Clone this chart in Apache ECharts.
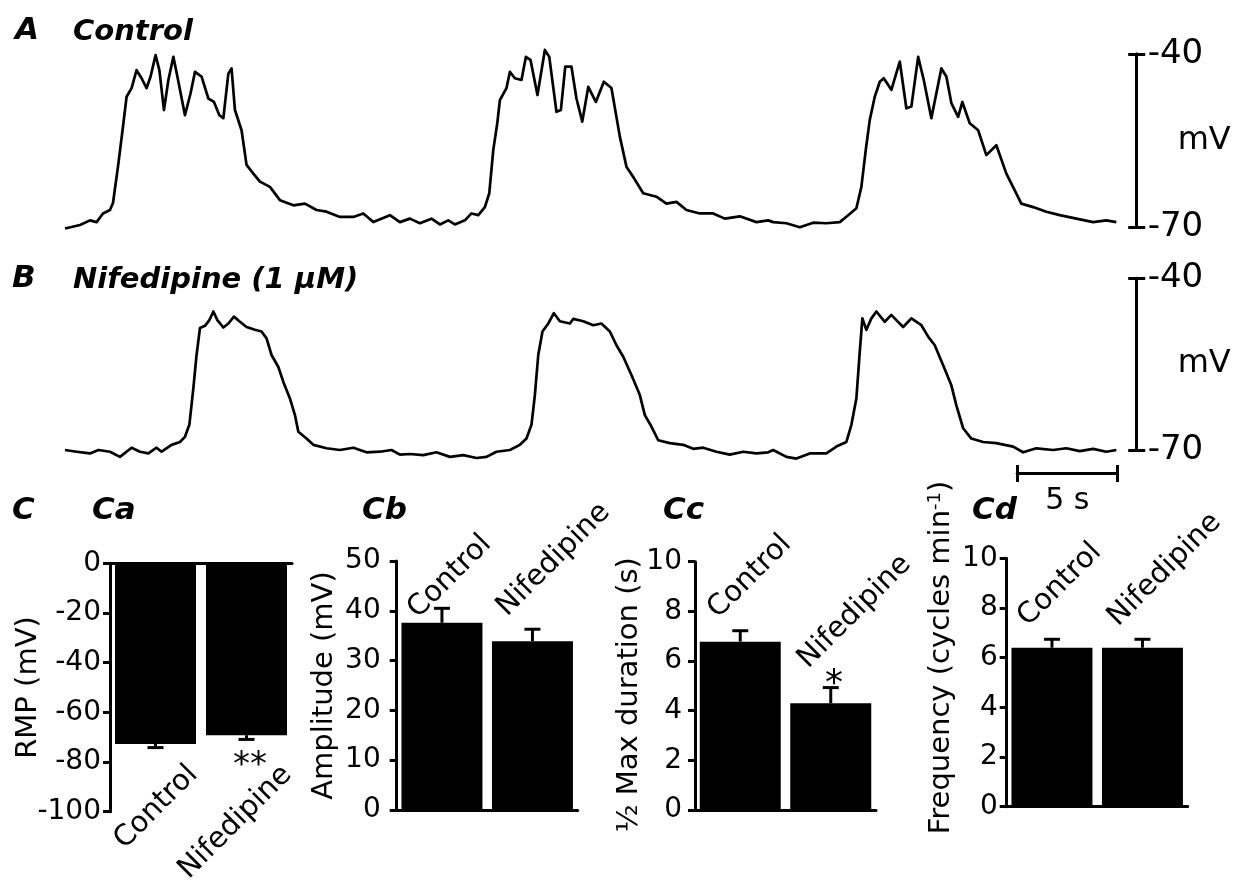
<!DOCTYPE html>
<html><head><meta charset="utf-8">
<script src="https://cdn.jsdelivr.net/npm/echarts@6/dist/echarts.min.js"></script>
<style>html,body{margin:0;padding:0;background:#fff}#c{width:1250px;height:888px}</style>
</head><body><div id="c"></div>
<script>
// ---------- data ----------
const controlTime = [0,0.75,1.25,1.58,1.9,2.25,2.4,2.65,2.9,3.08,3.33,3.58,3.83,4.08,4.28,4.53,4.72,4.95,5.17,5.42,5.62,6.0,6.28,6.5,6.83,7.17,7.45,7.72,7.92,8.17,8.33,8.5,8.83,9.08,9.42,9.75,10.25,10.75,11.42,12.0,12.58,13.08,13.75,14.42,14.92,15.42,16.25,16.75,17.25,17.75,18.33,18.75,19.17,19.5,20.0,20.33,20.67,21.0,21.22,21.42,21.62,21.75,22.08,22.25,22.5,22.83,23.05,23.28,23.63,24.0,24.22,24.58,24.8,25.02,25.33,25.58,25.87,26.17,26.55,26.95,27.33,27.75,28.08,28.42,28.92,29.58,30.08,30.58,31.08,31.75,32.42,33.0,33.75,34.58,35.17,35.42,36.08,36.75,37.42,38.08,38.75,39.17,39.58,39.83,40.05,40.25,40.5,40.75,40.95,41.33,41.75,42.08,42.33,42.67,42.95,43.33,43.83,44.08,44.33,44.67,44.88,45.25,45.67,46.08,46.58,47.08,47.5,47.83,48.42,49.08,49.75,50.58,51.42,52.08,52.58];
const controlVm = [-70.2,-69.6,-68.8,-69.1,-67.6,-67.0,-65.8,-59.5,-52.6,-47.4,-45.9,-42.8,-44.2,-45.9,-43.9,-40.2,-42.8,-49.7,-44.5,-40.5,-43.9,-50.6,-46.8,-43.1,-43.9,-47.7,-48.3,-50.6,-51.1,-43.4,-42.5,-49.7,-53.2,-59.2,-60.7,-62.1,-63.0,-65.3,-66.2,-65.9,-67.0,-67.3,-68.2,-68.2,-67.6,-69.1,-67.9,-69.1,-68.5,-69.3,-68.5,-69.5,-68.8,-69.5,-68.8,-67.6,-67.9,-66.5,-64.1,-56.6,-52.0,-48.0,-45.9,-43.1,-44.2,-44.5,-40.5,-41.0,-47.1,-39.3,-40.5,-50.0,-49.7,-42.2,-42.2,-47.7,-51.7,-45.7,-48.3,-44.8,-45.9,-54.3,-59.5,-61.3,-64.1,-64.7,-65.9,-65.6,-67.0,-67.6,-67.6,-68.5,-68.1,-69.1,-68.8,-69.1,-69.3,-70.0,-69.2,-69.3,-69.1,-67.9,-66.7,-63.0,-56.6,-51.4,-47.4,-44.8,-44.2,-46.2,-41.3,-49.4,-49.1,-40.5,-44.5,-51.1,-42.5,-43.9,-48.5,-50.9,-48.3,-52.0,-53.2,-57.5,-55.8,-60.7,-63.6,-65.9,-66.5,-67.3,-67.9,-68.5,-69.1,-68.8,-69.1];
const nifTime = [0,0.58,1.25,1.67,2.25,2.75,3.33,3.75,4.17,4.58,4.83,5.33,5.75,6.0,6.22,6.42,6.58,6.75,7.0,7.22,7.42,7.62,7.92,8.17,8.45,8.75,9.08,9.5,9.83,10.08,10.33,10.67,10.92,11.25,11.5,11.67,12.08,12.42,13.08,13.75,14.42,15.08,15.75,16.33,16.75,17.25,17.92,18.58,19.25,19.92,20.58,21.08,21.58,22.25,22.75,23.08,23.33,23.5,23.67,23.88,24.17,24.45,24.75,25.25,25.42,25.92,26.42,26.83,27.25,27.58,27.92,28.33,28.75,29.0,29.33,29.67,30.25,30.92,31.42,31.92,32.58,33.25,33.92,34.58,35.17,35.42,36.08,36.58,37.25,38.08,38.58,39.08,39.33,39.58,39.75,39.88,40.08,40.33,40.58,41.0,41.33,41.58,41.92,42.33,42.83,43.17,43.5,43.92,44.33,44.58,44.92,45.33,45.92,46.58,47.42,47.92,48.58,49.42,50.08,50.75,51.42,52.08,52.58];
const nifVm = [-70.0,-70.3,-70.6,-70.0,-70.3,-71.2,-69.6,-70.3,-70.6,-69.6,-70.3,-69.1,-68.6,-67.7,-65.6,-59.2,-53.4,-48.7,-48.3,-47.3,-45.8,-47.3,-48.6,-47.9,-46.7,-47.6,-48.5,-49.0,-49.3,-50.5,-53.4,-55.5,-58.1,-61.0,-63.9,-66.8,-68.0,-69.1,-69.7,-70.0,-69.6,-70.4,-70.3,-70.0,-70.8,-70.7,-70.9,-70.4,-71.2,-70.9,-71.4,-71.2,-70.3,-70.0,-69.1,-68.0,-65.6,-60.4,-53.4,-49.3,-47.9,-46.1,-47.5,-47.9,-47.1,-47.5,-48.2,-47.9,-49.3,-51.7,-53.7,-56.9,-60.4,-63.9,-65.9,-68.3,-68.8,-69.1,-69.8,-69.6,-70.3,-70.8,-70.3,-70.6,-70.4,-70.0,-71.2,-71.5,-70.6,-70.6,-69.4,-68.6,-65.6,-61.0,-52.8,-47.0,-49.0,-47.0,-45.8,-47.6,-46.4,-47.3,-48.5,-47.0,-48.2,-50.2,-51.7,-55.2,-58.7,-62.2,-66.2,-68.0,-68.6,-68.8,-69.4,-70.4,-69.7,-70.0,-69.7,-70.2,-69.8,-70.3,-70.0];
const vmScale = [-70, -40];      // scale bar ends (mV)
const timeScale = [0, 5];        // scale bar (s)

const categories = ['Control', 'Nifedipine'];
const rmpMean = [-72.7, -69.2];  const rmpSem = [1.5, 1.7];
const ampMean = [37.6, 33.9];    const ampSem = [2.9, 2.4];
const durMean = [6.78, 4.30];    const durSem = [0.44, 0.63];
const freqMean = [6.40, 6.40];   const freqSem = [0.34, 0.34];
const signif = { rmp: ['', '**'], dur: ['', '*'] };

// ---------- chart ----------
const FONT = 'DejaVu Sans';
const K = '#000';
const chart = echarts.init(document.getElementById('c'), null, { renderer: 'canvas' });

function zip(a, b) { return a.map((v, i) => [v, b[i]]); }

const gA = { left: 65, right: 113.3, top: 54, height: 173.3, outerBoundsMode: 'none' };
const gB = { left: 65, right: 113.3, top: 278.3, height: 171.7, outerBoundsMode: 'none' };
const gS = { left: 1017.3, width: 100, top: 472.5, height: 1, outerBoundsMode: 'none' };
const barGrid = [
  { left: 110, width: 182, top: 563.3, height: 248.4, outerBoundsMode: 'none' },
  { left: 396.7, width: 181, top: 561, height: 249, outerBoundsMode: 'none' },
  { left: 695, width: 181, top: 561.7, height: 248.3, outerBoundsMode: 'none' },
  { left: 1006.7, width: 181, top: 558.3, height: 248.4, outerBoundsMode: 'none' }
];
// grids 0-2: traces + time bar (outer ticks), 3-5: same rects (inner ticks), 6-9: bar panels
const grids = [gA, gB, gS, Object.assign({}, gA), Object.assign({}, gB), Object.assign({}, gS)].concat(barGrid);

function scaleYAxis(grid, inside) {
  return {
    type: 'value', gridIndex: grid, position: 'right', min: vmScale[0], max: vmScale[1], interval: vmScale[1] - vmScale[0],
    axisLine: { show: true, onZero: false, lineStyle: { color: K, width: 3 } },
    axisTick: { show: true, inside: inside, length: 8.5, lineStyle: { color: K, width: 3 } },
    axisLabel: { show: !inside, margin: 11, color: K, fontFamily: FONT, fontSize: 34 },
    splitLine: { show: false },
    name: inside ? '' : 'mV', nameLocation: 'middle', nameRotate: 0, nameGap: 41, nameMoveOverlap: false,
    nameTextStyle: { color: K, fontFamily: FONT, fontSize: 32 }
  };
}
function scaleXAxis(grid, inside) {
  return {
    type: 'value', gridIndex: grid, min: timeScale[0], max: timeScale[1], interval: timeScale[1] - timeScale[0], position: 'bottom',
    axisLine: { show: true, onZero: false, lineStyle: { color: K, width: 3 } },
    axisTick: { show: true, inside: inside, length: 8.5, lineStyle: { color: K, width: 3 } },
    axisLabel: { show: false }, splitLine: { show: false },
    name: inside ? '' : '5 s', nameLocation: 'middle', nameGap: 13, nameMoveOverlap: false,
    nameTextStyle: { color: K, fontFamily: FONT, fontSize: 30, verticalAlign: 'top' }
  };
}
const hiddenX = (g) => ({ type: 'value', gridIndex: g, min: 0, max: 53.6, show: false });
const hiddenY = (g) => ({ type: 'value', gridIndex: g, min: 0, max: 1, show: false });

const xAxes = [hiddenX(0), hiddenX(1), scaleXAxis(2, false), hiddenX(3), hiddenX(4), scaleXAxis(5, true)];
const yAxes = [scaleYAxis(0, false), scaleYAxis(1, false), hiddenY(2), scaleYAxis(3, true), scaleYAxis(4, true), hiddenY(5)];

const series = [
  { type: 'line', xAxisIndex: 0, yAxisIndex: 0, data: zip(controlTime, controlVm), showSymbol: false, symbol: 'none', clip: false,
    lineStyle: { color: K, width: 2.7, join: 'round' }, animation: false },
  { type: 'line', xAxisIndex: 1, yAxisIndex: 1, data: zip(nifTime, nifVm), showSymbol: false, symbol: 'none', clip: false,
    lineStyle: { color: K, width: 2.7, join: 'round' }, animation: false }
];

const barSpecs = [
  { mean: rmpMean, sem: rmpSem, min: -100, max: 0, interval: 20, name: 'RMP (mV)', gap: 67, margin: 9, pad: [0, 0, 0, 0] },
  { mean: ampMean, sem: ampSem, min: 0, max: 50, interval: 10, name: 'Amplitude (mV)', gap: 58, margin: 16, pad: [0, 0, 0, 0] },
  { mean: durMean, sem: durSem, min: 0, max: 10, interval: 2, name: '½ Max duration (s)', gap: 51, margin: 13, pad: [0, 18, 0, 0] },
  { mean: freqMean, sem: freqSem, min: 0, max: 10, interval: 2, name: 'Frequency (cycles min{sup|-1})', gap: 51, margin: 9, pad: [0, 0, 0, 50] }
];

function errRender(params, api) {
  const c = api.value(0), m = api.value(1), e = api.value(2);
  const end = m < 0 ? m - e : m + e;
  const p0 = api.coord([c, m]), p1 = api.coord([c, end]);
  const hw = 8;
  return { type: 'group', children: [
    { type: 'line', shape: { x1: p0[0], y1: p0[1], x2: p1[0], y2: p1[1] }, style: { stroke: K, lineWidth: 3 } },
    { type: 'line', shape: { x1: p1[0] - hw, y1: p1[1], x2: p1[0] + hw, y2: p1[1] }, style: { stroke: K, lineWidth: 3 } }
  ] };
}

barSpecs.forEach((s, i) => {
  const g = 6 + i;
  xAxes.push({
    type: 'category', gridIndex: g, data: categories,
    axisLine: { show: true, onZero: true, lineStyle: { color: K, width: 3 } },
    axisTick: { show: false }, axisLabel: { show: false }, splitLine: { show: false }
  });
  yAxes.push({
    type: 'value', gridIndex: g, min: s.min, max: s.max, interval: s.interval,
    axisLine: { show: true, onZero: false, lineStyle: { color: K, width: 3 } },
    axisTick: { show: true, length: 7, lineStyle: { color: K, width: 3 } },
    axisLabel: { margin: s.margin, color: K, fontFamily: FONT, fontSize: 28 },
    splitLine: { show: false },
    name: s.name, nameLocation: 'middle', nameGap: s.gap, nameMoveOverlap: false,
    nameTextStyle: { color: K, fontFamily: FONT, fontSize: 29, padding: s.pad,
      rich: { sup: { fontFamily: FONT, fontSize: 18, verticalAlign: 'top', color: K } } }
  });
  series.push({
    type: 'bar', xAxisIndex: g, yAxisIndex: g, data: s.mean, barWidth: 81,
    itemStyle: { color: K }, animation: false
  });
  series.push({
    type: 'custom', xAxisIndex: g, yAxisIndex: g, renderItem: errRender,
    data: categories.map((c, j) => [j, s.mean[j], s.sem[j]]), encode: { x: 0, y: 1 }, z: 5, animation: false
  });
});

// text elements
const bi = (size) => 'italic bold ' + size + 'px "' + FONT + '"';
const rg = (size) => size + 'px "' + FONT + '"';
function txt(text, x, y, font, align, valign, rot) {
  return { type: 'text', x: x, y: y, rotation: rot || 0, z: 10,
    style: { text: text, font: font, fill: K, align: align || 'left', verticalAlign: valign || 'middle' } };
}
const catSpots = [
  [[183, 760], [277, 760]],
  [[423, 624], [512, 622]],
  [[723, 624], [813, 674]],
  [[1033, 632], [1123, 632]]
];
const R45 = Math.PI / 4;
const graphics = [
  txt('A', 15, 31, bi(31)), txt('Control', 73, 32, bi(29)),
  txt('B', 12, 279, bi(31)), txt('Nifedipine (1 µM)', 73, 280, bi(29)),
  txt('C', 12, 511, bi(31)), txt('Ca', 92, 511, bi(31)), txt('Cb', 362, 511, bi(31)),
  txt('Cc', 663, 511, bi(31)), txt('Cd', 972, 511, bi(31))
];
catSpots.forEach((spots, i) => {
  categories.forEach((c, j) => {
    if (i === 0) graphics.push(txt(c, spots[j][0], spots[j][1], rg(29), 'right', 'top', R45));
    else graphics.push(txt(c, spots[j][0], spots[j][1], rg(29), 'left', 'bottom', R45));
  });
});
graphics.push(txt(signif.rmp[1], 250, 766, rg(34), 'center', 'middle'));
graphics.push(txt(signif.dur[1], 834, 685, rg(36), 'center', 'middle'));

chart.setOption({
  backgroundColor: '#fff',
  animation: false,
  grid: grids,
  xAxis: xAxes,
  yAxis: yAxes,
  series: series,
  graphic: { elements: graphics }
});
</script>
</body></html>
